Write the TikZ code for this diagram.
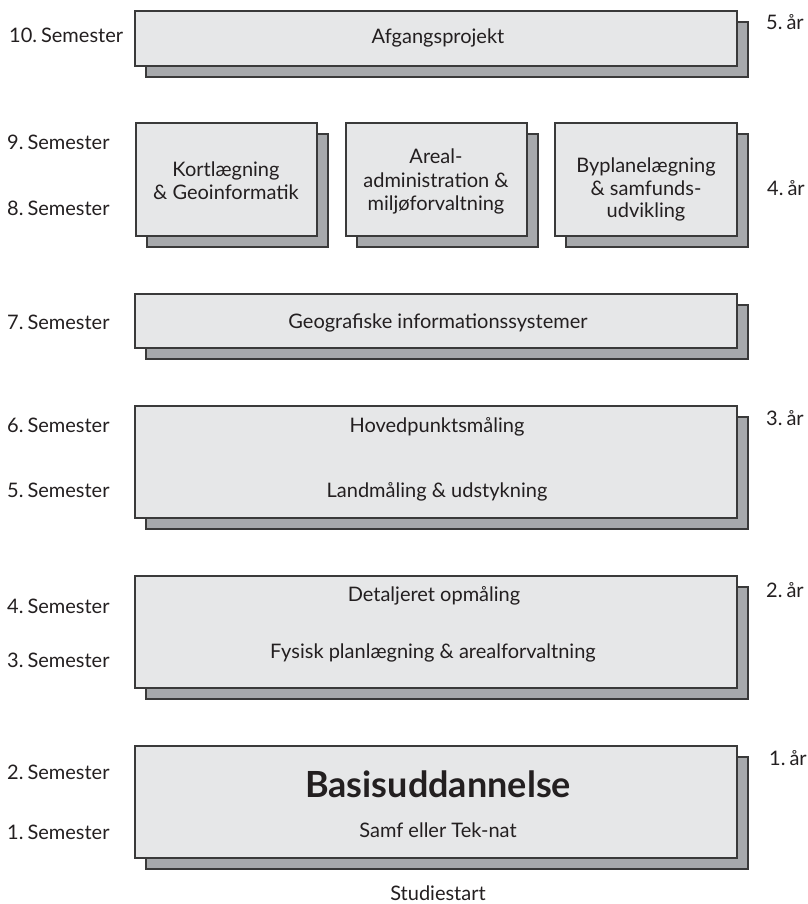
\documentclass[tikz,border=0pt]{standalone}
\usepackage{fontspec}
\setmainfont{Lato}
\definecolor{boxfill}{HTML}{E6E7E8}
\definecolor{shadefill}{HTML}{A7A9AC}
\definecolor{edge}{HTML}{3A3A3A}
\definecolor{ink}{HTML}{231F20}
\newcommand\stackbox[5]{%
  \draw[shadebox] (#2+11,#3+11) rectangle (#4+11,#5+11);
  \node[mainbox, anchor=north west, minimum width=#4-#2, minimum height=#5-#3] (#1) at (#2,#3) {};
}
\newcommand\dotsp{.\kern0.2em}
\begin{document}
\begin{tikzpicture}[x=1pt,y=-1pt,
  mainbox/.style={draw=edge, line width=1.1pt, fill=boxfill, inner sep=0, outer sep=0},
  shadebox/.style={draw=edge, line width=1.1pt, fill=shadefill},
  lbl/.style={font=\fontsize{20}{24}\selectfont, text=ink, inner sep=0, anchor=base, yshift=-7pt},
  side/.style={lbl, anchor=base west},
  bigl/.style={font=\fontsize{36}{42}\selectfont\bfseries, text=ink, inner sep=0, anchor=base, yshift=-12.5pt},
]
\path[use as bounding box] (0,0) rectangle (807,904);

\stackbox{b1}{135}{11}{737}{66}
\stackbox{b2a}{136}{123}{317}{236}
\stackbox{b2b}{346}{123}{527}{236}
\stackbox{b2c}{555}{123}{737}{236}
\stackbox{b3}{135}{294}{737}{348}
\stackbox{b4}{135}{406}{737}{518}
\stackbox{b5}{135}{576}{737}{688}
\stackbox{b6}{135}{746}{737}{858}

% box texts
\node[lbl] (t1) at (438,37) {Afgangsprojekt};
\node[lbl] (t2a1) at (226,169) {Kortlægning};
\node[lbl] (t2a2) at (226,192) {\& Geoinformatik};
\node[lbl] (t2b1) at (436,157) {Areal-};
\node[lbl] (t2b2) at (436,180) {administration \&};
\node[lbl] (t2b3) at (436,203) {miljøforvaltning};
\node[lbl] (t2c1) at (646,165) {Byplanelægning};
\node[lbl] (t2c2) at (646,188) {\& samfunds-};
\node[lbl] (t2c3) at (646,210) {udvikling};
\node[lbl] (t3) at (438,321) {Geografiske informationssystemer};
\node[lbl] (t4a) at (437,425) {Hovedpunktsmåling};
\node[lbl] (t4b) at (437,490) {Landmåling \& udstykning};
\node[lbl] (t5a) at (434,594) {Detaljeret opmåling};
\node[lbl] (t5b) at (433,651) {Fysisk planlægning \& arealforvaltning};
\node[bigl] (t6a) at (438,785) {Basisuddannelse};
\node[lbl] (t6b) at (438,830) {Samf eller Tek-nat};
\node[lbl] (start) at (438,893) {Studiestart};

% semester labels
\node[side] (s10) at (9,36) {10\dotsp Semester};
\node[side] (s9) at (7,143) {9\dotsp Semester};
\node[side] (s8) at (7,208) {8\dotsp Semester};
\node[side] (s7) at (7,322) {7\dotsp Semester};
\node[side] (s6) at (7,425) {6\dotsp Semester};
\node[side] (s5) at (7,490) {5\dotsp Semester};
\node[side] (s4) at (7,606) {4\dotsp Semester};
\node[side] (s3) at (7,660) {3\dotsp Semester};
\node[side] (s2) at (7,772) {2\dotsp Semester};
\node[side] (s1) at (7,832) {1\dotsp Semester};

% year labels
\node[side] (y5) at (766,23) {5\dotsp år};
\node[side] (y4) at (767,188) {4\dotsp år};
\node[side] (y3) at (766,418) {3\dotsp år};
\node[side] (y2) at (766,590) {2\dotsp år};
\node[side] (y1) at (769,758) {1\dotsp år};
\end{tikzpicture}
\end{document}
